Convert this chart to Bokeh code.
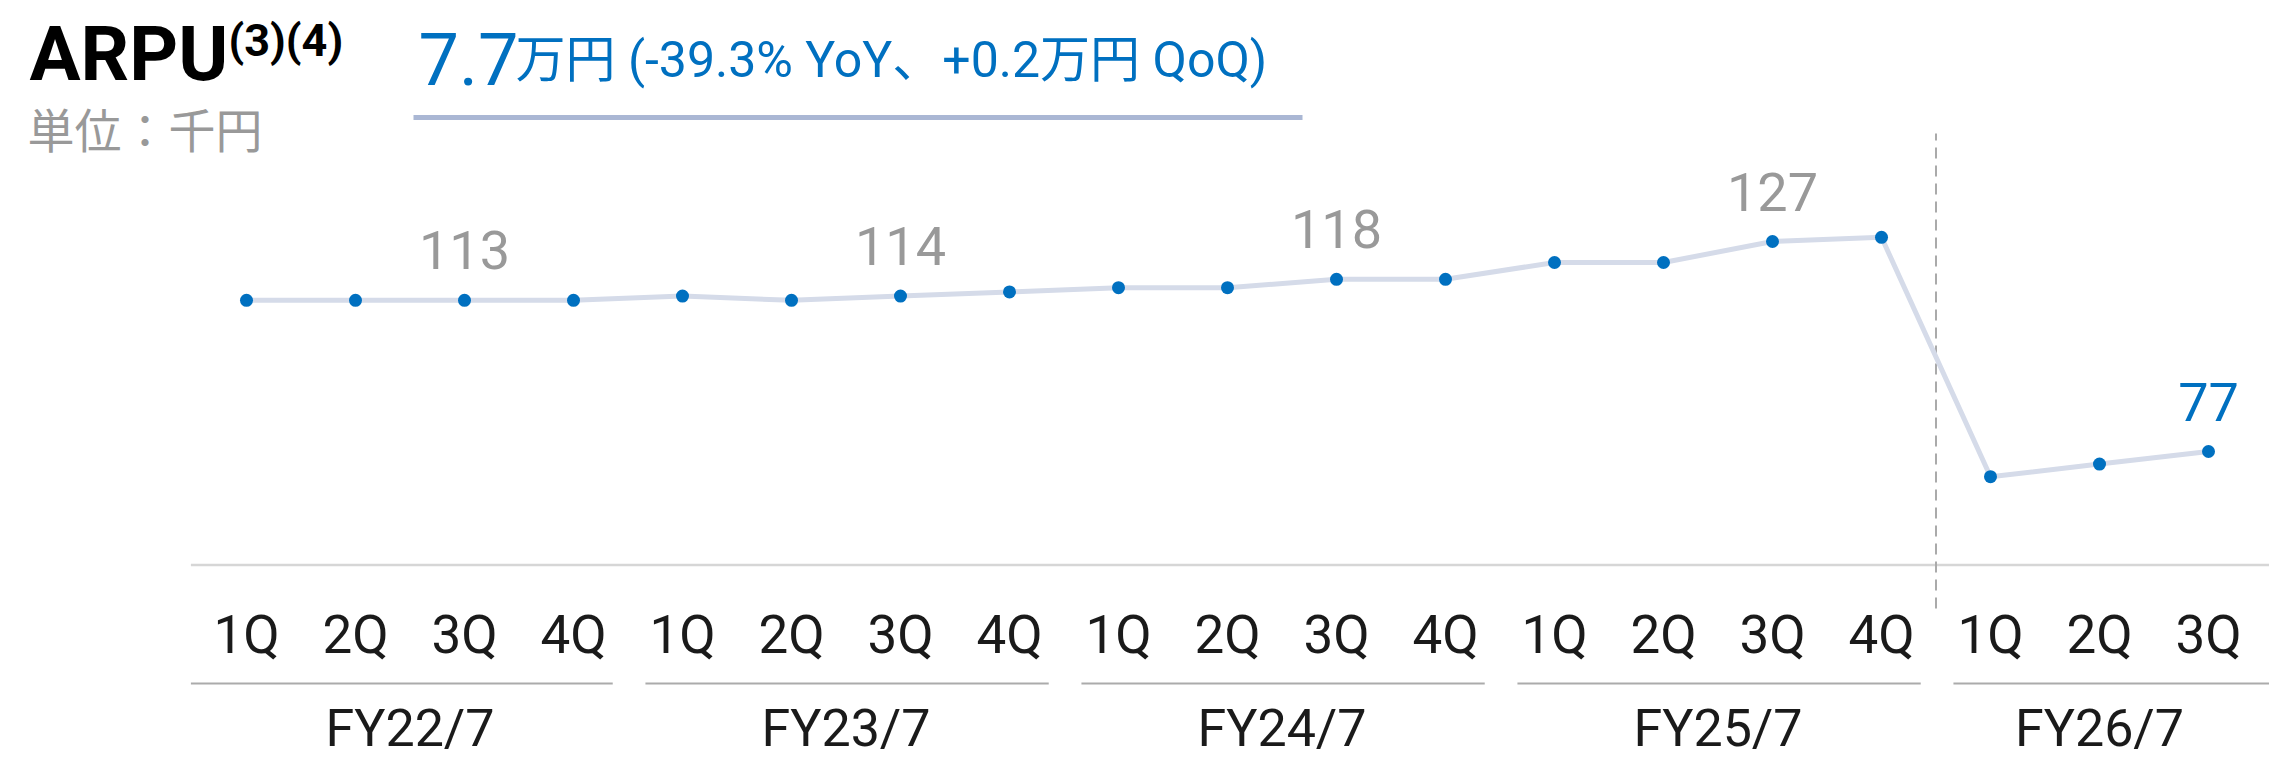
from bokeh.plotting import figure
from bokeh.models import Range1d, Label, ColumnDataSource
from bokeh.core.properties import value
from bokeh.embed import file_html
from bokeh.resources import INLINE

# ---------------- data ----------------
fiscal_years = ["FY22/7", "FY23/7", "FY24/7", "FY25/7", "FY26/7"]
quarters_per_year = [4, 4, 4, 4, 3]
quarter_labels = ["1Q", "2Q", "3Q", "4Q",
                  "1Q", "2Q", "3Q", "4Q",
                  "1Q", "2Q", "3Q", "4Q",
                  "1Q", "2Q", "3Q", "4Q",
                  "1Q", "2Q", "3Q"]
arpu = [113, 113, 113, 113,
        114, 113, 114, 115,
        116, 116, 118, 118,
        122, 122, 127, 128,
        71, 74, 77]
labeled_points = [2, 6, 10, 14, 18]   # points that carry a value label
axis_floor = 50                        # value at the baseline of the plot

title_text = "ARPU"
title_sup = "(3)(4)"
unit_text = "単位：千円"
kpi_value = "7.7"
kpi_detail = "万円 (-39.3% YoY、+0.2万円 QoQ)"

# ---------------- geometry ----------------
W, H = 2269, 758
X0, X1 = -246 / 109, (W - 246) / 109
Y_TOP, Y_BOT = 127 + 241 / 4.2, 127 - (H - 241) / 4.2

def xv(px):  # canvas pixel x -> data x
    return X0 + px / W * (X1 - X0)

def yv(py):  # canvas pixel y (from top) -> data y
    return Y_TOP - py / H * (Y_TOP - Y_BOT)

BLUE = "#0070c0"
GREY_TXT = "#999999"
LATIN = "Roboto"
JP = "Roboto, 'Noto Sans CJK JP'"

p = figure(width=W, height=H,
           x_range=Range1d(X0, X1), y_range=Range1d(Y_BOT, Y_TOP),
           output_backend="svg", toolbar_location=None,
           x_axis_location=None, y_axis_location=None,
           min_border=0, outline_line_color=None, title=None,
           background_fill_color="white", border_fill_color="white")
p.grid.visible = False

n = len(arpu)
xs = list(range(n))

# baseline
p.segment(x0=[-0.51], y0=[axis_floor], x1=[n], y1=[axis_floor],
          line_color="#d6d6d6", line_width=2.5)

# dashed separator between FY25/7 and FY26/7
sep_x = sum(quarters_per_year[:4]) - 0.5
p.segment(x0=[sep_x], y0=[yv(608)], x1=[sep_x], y1=[yv(133)],
          line_color="#aaaaaa", line_width=2, line_dash="11 7")

# line + points
p.line(xs, arpu, line_color="#d5dbe9", line_width=5)
p.scatter(xs, arpu, size=13, fill_color=BLUE, line_color=None)

# value labels
lab_src = ColumnDataSource(dict(
    x=[xs[i] for i in labeled_points],
    y=[arpu[i] for i in labeled_points],
    t=[str(round(arpu[i])) for i in labeled_points],
    c=[GREY_TXT] * (len(labeled_points) - 1) + [BLUE],
))
p.text(x="x", y="y", text="t", source=lab_src, text_color="c",
       text_align="center", text_baseline="alphabetic", y_offset=-50,
       text_font=value(LATIN), text_font_size="54px")

# quarter labels
p.text(x=xs, y=[axis_floor] * n, text=quarter_labels,
       text_align="center", text_baseline="alphabetic", y_offset=70,
       text_font=value(LATIN), text_font_size="53px", text_color="#1a1a1a")

# group underline + FY labels
g0, g1, gc = [], [], []
start = 0
for k, cnt in enumerate(quarters_per_year):
    first, last = start, start + cnt - 1
    g0.append(-0.51 if k == 0 else first - 0.34)
    g1.append(last + 0.36 if k < len(quarters_per_year) - 1 else n)
    gc.append((first + last) / 2)
    start += cnt
gy = yv(683)
p.segment(x0=g0, y0=[gy] * len(g0), x1=g1, y1=[gy] * len(g0),
          line_color="#ababab", line_width=2)
p.text(x=gc, y=[axis_floor] * len(gc), text=fiscal_years,
       text_align="center", text_baseline="alphabetic", y_offset=164,
       text_font=value(LATIN), text_font_size="52px", text_color="#1a1a1a")

# header texts
p.add_layout(Label(x=xv(29), y=yv(53), text=title_text, text_font=LATIN,
                   text_font_size="76px", text_font_style="bold",
                   text_color="#000000", text_baseline="alphabetic"))
p.add_layout(Label(x=xv(228), y=yv(40), text=title_sup, text_font=LATIN,
                   text_font_size="45px", text_font_style="bold",
                   text_color="#000000", text_baseline="alphabetic"))
p.add_layout(Label(x=xv(27), y=yv(127), text=unit_text, text_font="Noto Sans CJK JP",
                   text_font_size="47px", text_color=GREY_TXT,
                   text_baseline="alphabetic"))
p.add_layout(Label(x=xv(418), y=yv(58), text=kpi_value, text_font=LATIN,
                   text_font_size="72px", text_color=BLUE,
                   text_baseline="alphabetic"))
p.add_layout(Label(x=xv(515), y=yv(59), text=kpi_detail, text_font=JP,
                   text_font_size="50px", text_color=BLUE,
                   text_baseline="alphabetic"))
# underline below the KPI
p.segment(x0=[xv(413)], y0=[yv(117)], x1=[xv(1302)], y1=[yv(117)],
          line_color="#aab7d4", line_width=5)

open("out.html", "w").write(file_html(p, INLINE))
